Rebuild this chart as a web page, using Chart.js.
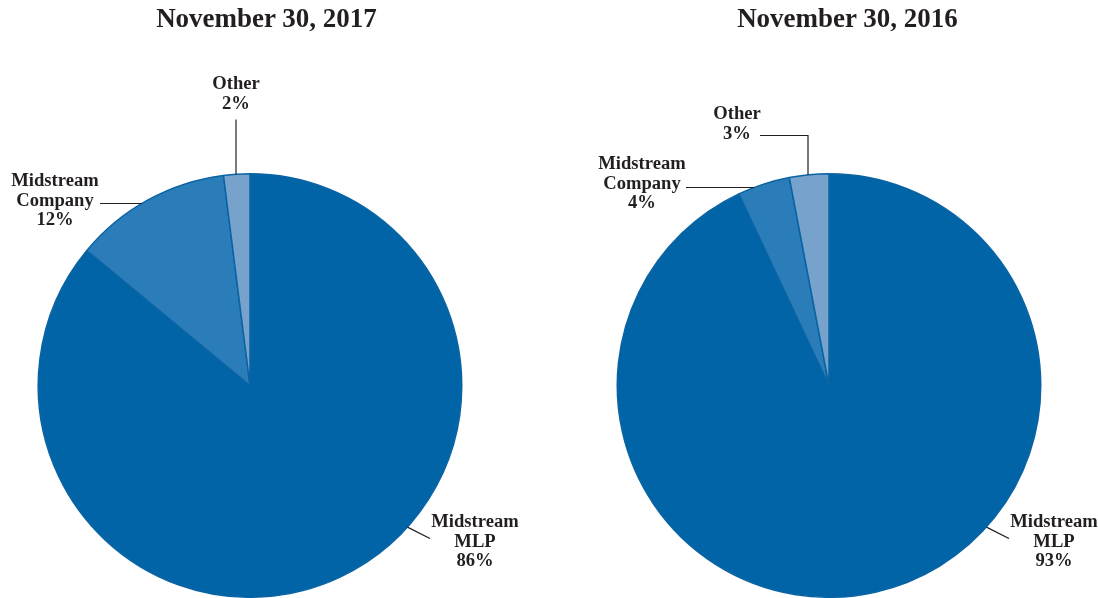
<!DOCTYPE html>
<html lang="en">
<head>
    <meta charset="UTF-8">
    <title>Portfolio Mix</title>
    <script src="https://cdn.jsdelivr.net/npm/chart.js"></script>
    <style>
        html, body { margin: 0; padding: 0; background: #fff; }
        .wrap { position: relative; width: 1098px; height: 598px; overflow: hidden; }
        .panel { position: absolute; top: 0; width: 549px; height: 598px; }
        .title {
            position: absolute; top: 3px; width: 549px; text-align: center;
            font: bold 27px "Liberation Serif", "Times New Roman", serif; color: #231f20;
        }
    </style>
</head>
<body>
<div class="wrap">
    <div class="panel" style="left:0">
        <div class="title" style="left:-8px">November 30, 2017</div>
        <canvas id="pie2017" width="549" height="598"></canvas>
    </div>
    <div class="panel" style="left:549px">
        <div class="title" style="left:24px">November 30, 2016</div>
        <canvas id="pie2016" width="549" height="598"></canvas>
    </div>
</div>
<script>
    // Data
    const categories = ['Midstream MLP', 'Midstream Company', 'Other'];
    const values2017 = [86, 12, 2];
    const values2016 = [93, 4, 3];
    const sliceColors = ['#0064a6', '#2b7db9', '#77a2cc'];

    // Callout labels: text lines, label centre relative to pie centre, leader style
    const callouts2017 = [
        { lines: ['Midstream', 'MLP', '86%'], x: 225, y: 137, lead: { type: 'diag', from: [159, 143], to: [180, 153] } },
        { lines: ['Midstream', 'Company', '12%'], x: -195, y: -204, lead: { type: 'hline', y: -182, x0: -150 } },
        { lines: ['Other', '2%'], x: -14, y: -301, lead: { type: 'vline', x: -14, y0: -266 } }
    ];
    const callouts2016 = [
        { lines: ['Midstream', 'MLP', '93%'], x: 225, y: 137, lead: { type: 'diag', from: [159, 143], to: [180, 153] } },
        { lines: ['Midstream', 'Company', '4%'], x: -187, y: -221, lead: { type: 'hline', y: -198, x0: -143 } },
        { lines: ['Other', '3%'], x: -92, y: -271, lead: { type: 'elbow', y: -250, x0: -69, x1: -21 } }
    ];

    const calloutPlugin = {
        id: 'callouts',
        afterDraw(chart, args, opts) {
            const arc = chart.getDatasetMeta(0).data[0];
            if (!arc) return;
            const { x: cx, y: cy, outerRadius: r } = arc.getProps(['x', 'y', 'outerRadius'], true);
            const ctx = chart.ctx;
            const lineH = 19.5;
            ctx.save();
            ctx.fillStyle = '#231f20';
            ctx.strokeStyle = '#231f20';
            ctx.lineWidth = 1.2;
            ctx.font = 'bold 18.6px "Liberation Serif", "Times New Roman", serif';
            ctx.textAlign = 'center';
            ctx.textBaseline = 'middle';
            opts.items.forEach(c => {
                c.lines.forEach((t, i) => ctx.fillText(t, cx + c.x, cy + c.y + i * lineH));
                const L = c.lead;
                ctx.beginPath();
                if (L.type === 'hline') {
                    const dy = L.y;
                    ctx.moveTo(cx + L.x0, cy + dy);
                    ctx.lineTo(cx - Math.sqrt(r * r - dy * dy), cy + dy);
                } else if (L.type === 'vline') {
                    const dx = L.x;
                    ctx.moveTo(cx + dx, cy + L.y0);
                    ctx.lineTo(cx + dx, cy - Math.sqrt(r * r - dx * dx));
                } else if (L.type === 'elbow') {
                    ctx.moveTo(cx + L.x0, cy + L.y);
                    ctx.lineTo(cx + L.x1, cy + L.y);
                    ctx.lineTo(cx + L.x1, cy - Math.sqrt(r * r - L.x1 * L.x1));
                } else {
                    const len = Math.hypot(L.from[0], L.from[1]);
                    ctx.moveTo(cx + L.from[0] * r / len, cy + L.from[1] * r / len);
                    ctx.lineTo(cx + L.to[0], cy + L.to[1]);
                }
                ctx.stroke();
            });
            ctx.restore();
        }
    };

    function makePie(id, values, callouts, padding) {
        return new Chart(document.getElementById(id), {
            type: 'pie',
            data: {
                labels: categories,
                datasets: [{
                    data: values,
                    backgroundColor: sliceColors,
                    borderColor: '#0a64a4',
                    borderWidth: 1.5
                }]
            },
            options: {
                responsive: false,
                animation: false,
                layout: { padding: padding },
                plugins: {
                    legend: { display: false },
                    tooltip: { enabled: false },
                    callouts: { items: callouts }
                }
            },
            plugins: [calloutPlugin]
        });
    }

    makePie('pie2017', values2017, callouts2017, { left: 37, right: 86, top: 173, bottom: 0 });
    makePie('pie2016', values2016, callouts2016, { left: 67, right: 56, top: 173, bottom: 0 });
</script>
</body>
</html>
